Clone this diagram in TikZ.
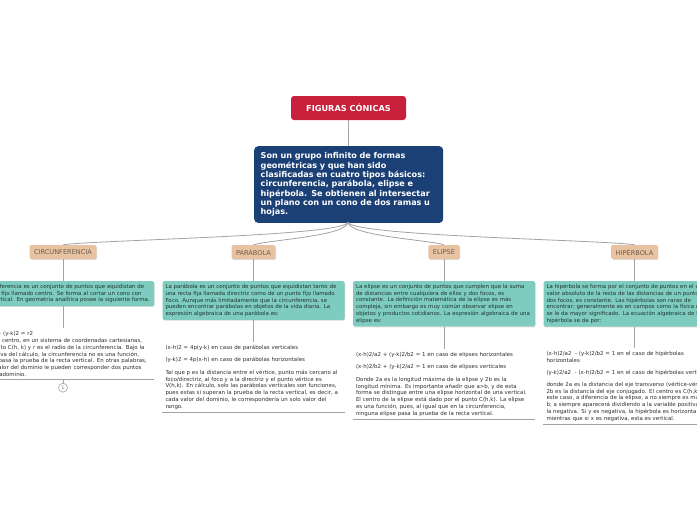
\documentclass[tikz,border=0pt]{standalone}
\usepackage{fontspec}
\setmainfont{DejaVu Sans}
\usetikzlibrary{shadows,positioning,calc}
\definecolor{titlered}{HTML}{C8203A}
\definecolor{mainblue}{HTML}{1B4075}
\definecolor{cattan}{HTML}{E8C3A2}
\definecolor{cattext}{HTML}{6E5B4C}
\definecolor{descteal}{HTML}{7ECBBF}
\definecolor{desctext}{HTML}{1E3531}
\definecolor{formtext}{HTML}{2E2E2E}
\definecolor{linegray}{HTML}{A3A3A3}
\tikzset{
  titlebox/.style={fill=titlered, rounded corners=3pt, text=white,
    font=\bfseries\fontsize{8.2}{9}\selectfont, minimum width=115pt, minimum height=24pt, inner sep=0pt},
  mainbox/.style={fill=mainblue, rounded corners=4pt, text=white,
    font=\bfseries\fontsize{8.1}{9.3}\selectfont, align=left, text width=176pt,
    inner xsep=6.5pt, inner ysep=6.5pt, anchor=north west},
  catbox/.style={fill=cattan, rounded corners=1.5pt, text=cattext,
    font=\fontsize{6.6}{7}\selectfont, minimum height=14pt, inner xsep=4.5pt, inner ysep=0pt,
    drop shadow={shadow xshift=0.6pt, shadow yshift=-0.8pt, fill=black, opacity=0.15}},
  descbox/.style={fill=descteal, rounded corners=1.5pt, text=desctext,
    font=\fontsize{5.45}{6.8}\selectfont, align=left, text width=176pt,
    inner xsep=3pt, inner ysep=3pt, anchor=north,
    drop shadow={shadow xshift=0.6pt, shadow yshift=-0.8pt, fill=black, opacity=0.15}},
  formblock/.style={font=\fontsize{5.45}{6.8}\selectfont, align=left, text width=176pt,
    inner xsep=3pt, inner ysep=3pt, anchor=north, text=formtext},
  link/.style={draw=linegray, line width=0.8pt},
  uline/.style={draw=linegray, line width=1.1pt},
}
\begin{document}
\begin{tikzpicture}[x=1pt,y=-1pt]
\useasboundingbox (0,0) rectangle (697,520);
\fill[white] (0,0) rectangle (697,520);
\clip (0,0) rectangle (697,520);

\node[titlebox] (title) at (348.5,108) {FIGURAS CÓNICAS};
\node[mainbox] (main) at (254,146) {Son un grupo infinito de formas\\ geométricas y que han sido\\ clasificadas en cuatro tipos básicos:\\ circunferencia, parábola, elipse e\\ hipérbola. Se obtienen al intersectar\\ un plano con un cono de dos ramas u\\ hojas.};
\draw[link] (title.south) -- (main.north -| title.south);

\node[catbox] (ccat) at (63,252) {CIRCUNFERENCIA};
\node[catbox] (pcat) at (253.5,252) {PARÁBOLA};
\node[catbox] (ecat) at (444,252) {ELIPSE};
\node[catbox] (hcat) at (634.5,252) {HIPÉRBOLA};

\coordinate (ms) at (348,222);
\draw[link] (ms) .. controls (348,236) and (95,240) .. (ccat.north);
\draw[link] (ms) .. controls (348,236) and (268,240) .. (pcat.north);
\draw[link] (ms) .. controls (348,236) and (430,240) .. (ecat.north);
\draw[link] (ms) .. controls (348,236) and (605,240) .. (hcat.north);

% descriptions
\node[descbox] (cdesc) at (63,281) {La circunferencia es un conjunto de puntos que equidistan de\\ un punto fijo llamado centro. Se forma al cortar un cono con\\ plano vertical. En geometría analítica posee la siguiente forma.};
\node[descbox] (pdesc) at (253.5,281) {La parábola es un conjunto de puntos que equidistan tanto de\\ una recta fija llamada directriz como de un punto fijo llamado\\ Foco. Aunque más limitadamente que la circunferencia, se\\ pueden encontrar parábolas en objetos de la vida diaria. La\\ expresión algebraica de una parábola es:};
\node[descbox] (edesc) at (444,281) {La elipse es un conjunto de puntos que cumplen que la suma\\ de distancias entre cualquiera de ellos y dos focos, es\\ constante. La definición matemática de la elipse es más\\ compleja, sin embargo es muy común observar elipse en\\ objetos y productos cotidianos. La expresión algebraica de una\\ elipse es:};
\node[descbox] (hdesc) at (634.5,281) {La hipérbola se forma por el conjunto de puntos en el que el\\ valor absoluto de la resta de las distancias de un punto a\\ dos focos, es constante. Las hipérbolas son raras de\\ encontrar; generalmente es en campos como la física que\\ se le da mayor significado. La ecuación algebraica de la\\ hipérbola se da por:};

\foreach \c in {c,p,e,h}{\draw[link] (\c cat.south) -- (\c desc.north);}

% formula blocks
\node[formblock, below=22pt of cdesc] (cform) {(x-h)2\ \ \ + (y-k)2 = r2\\ Siendo el centro, en un sistema de coordenadas cartesianas,\\ en el punto C(h, k) y r es el radio de la circunferencia. Bajo la\\ perspectiva del cálculo, la circunferencia no es una función,\\ pues no pasa la prueba de la recta vertical. En otras palabras,\\ a cada valor del dominio le pueden corresponder dos puntos\\ del contradominio.};
\node[formblock, below=22pt of pdesc] (pform) {(x-h)2 = 4p(y-k) en caso de parábolas verticales\\[5.5pt] (y-k)2 = 4p(x-h) en caso de parábolas horizontales\\[5.5pt] Tal que p es la distancia entre el vértice, punto más cercano al\\ foco/directriz, al foco y a la directriz y el punto vértice es\\ V(h,k). En cálculo, solo las parábolas verticales son funciones,\\ pues estas si superan la prueba de la recta vertical, es decir, a\\ cada valor del dominio, le correspondería un solo valor del\\ rango.};
\node[formblock, below=22pt of edesc] (eform) {(x-h)2/a2 + (y-k)2/b2 = 1 en caso de elipses horizontales\\[5.8pt] (x-h)2/b2 + (y-k)2/a2 = 1 en caso de elipses verticales\\[5.8pt] Donde 2a es la longitud máxima de la elipse y 2b es la\\ longitud mínima. Es importante añadir que a>b, y de esta\\ forma se distingue entre una elipse horizontal de una vertical.\\ El centro de la elipse está dado por el punto C(h,k). La elipse\\ es una función, pues, al igual que en la circunferencia,\\ ninguna elipse pasa la prueba de la recta vertical.};
\node[formblock, below=21pt of hdesc] (hform) {(x-h)2/a2\ \ - (y-k)2/b2 = 1 en el caso de hipérbolas\\ horizontales\\[5.2pt] (y-k)2/a2\ \ - (x-h)2/b2 = 1 en el caso de hipérbolas verticales\\[5.2pt] donde 2a es la distancia del eje transverso (vértice-vértice) y\\ 2b es la distancia del eje conjugado. El centro es C(h,k). En\\ este caso, a diferencia de la elipse, a no siempre es mayor que\\ b; a siempre aparecerá dividiendo a la variable positiva y b a\\ la negativa. Si y es negativa, la hipérbola es horizontal,\\ mientras que si x es negativa, esta es vertical.};

\foreach \c in {c,p,e,h}{
  \draw[link] (\c desc.south) -- (\c form.north);
  \draw[uline] (\c form.south west) -- (\c form.south east);
}

\node[circle, draw=linegray, fill=white, line width=0.6pt, minimum size=9pt, inner sep=0pt,
  font=\fontsize{5}{5}\selectfont, text=gray] (cnum) at ($(cform.south)+(0,8)$) {1};
\draw[link] (cform.south) -- (cnum.north);
\end{tikzpicture}
\end{document}
